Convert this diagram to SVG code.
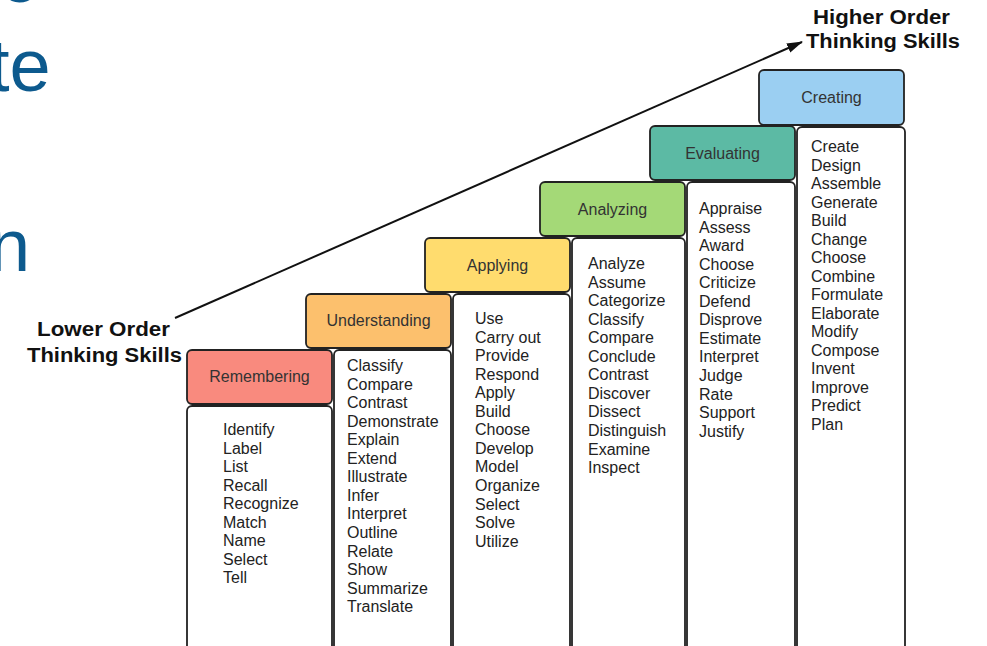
<svg xmlns="http://www.w3.org/2000/svg" width="987" height="646" viewBox="0 0 987 646">
<defs>
<style>
.hdr{stroke:#222;stroke-width:1.8}
.body{fill:#fff;stroke:#222;stroke-width:1.8}
.ht{font-family:"Liberation Sans",Arial,sans-serif;font-size:16px;fill:#333;text-anchor:middle}
.lt{font-family:"Liberation Sans",Arial,sans-serif;font-size:16px;fill:#222}
.bl{font-family:"Liberation Sans",Arial,sans-serif;font-size:20px;font-weight:bold;fill:#111}
.big{font-family:"Liberation Sans",Arial,sans-serif;font-size:74px;fill:#0d5a8e}
</style>
<marker id="ah" viewBox="0 0 16 10" refX="15" refY="5" markerWidth="16" markerHeight="10" markerUnits="userSpaceOnUse" orient="auto">
<path d="M0,0 L16,5 L0,10 z" fill="#111"/>
</marker>
</defs>
<rect width="987" height="646" fill="#fff"/>
<g id="title-fragments">
<text class="big" x="-1" y="2">o</text>
<text class="big" x="-11" y="91">te</text>
<text class="big" x="-11" y="271">n</text>
</g>
<g id="connectors">
<line x1="175" y1="318" x2="802" y2="42" stroke="#111" stroke-width="2" marker-end="url(#ah)"/>
</g>
<g id="label-lower">
<text class="bl" x="37" y="336" textLength="133" lengthAdjust="spacingAndGlyphs">Lower Order</text>
<text class="bl" x="27" y="362" textLength="155" lengthAdjust="spacingAndGlyphs">Thinking Skills</text>
</g>
<g id="label-higher">
<text class="bl" x="813" y="24" textLength="137" lengthAdjust="spacingAndGlyphs">Higher Order</text>
<text class="bl" x="806" y="48" textLength="154" lengthAdjust="spacingAndGlyphs">Thinking Skills</text>
</g>
<g id="remembering">
<rect class="body" x="187" y="406" width="145" height="252" rx="5"/>
<rect class="hdr" x="187" y="350" width="145" height="54" rx="5" fill="#f98a7e"/>
<text class="ht" x="259.5" y="382">Remembering</text>
<text class="lt"><tspan x="223" y="435">Identify</tspan><tspan x="223" y="453.6">Label</tspan><tspan x="223" y="472.1">List</tspan><tspan x="223" y="490.7">Recall</tspan><tspan x="223" y="509.2">Recognize</tspan><tspan x="223" y="527.8">Match</tspan><tspan x="223" y="546.3">Name</tspan><tspan x="223" y="564.9">Select</tspan><tspan x="223" y="583.4">Tell</tspan></text>
</g>
<g id="understanding">
<rect class="body" x="334" y="350" width="117" height="308" rx="5"/>
<rect class="hdr" x="306" y="294" width="145" height="54" rx="5" fill="#fcc06d"/>
<text class="ht" x="378.5" y="326">Understanding</text>
<text class="lt"><tspan x="347" y="371">Classify</tspan><tspan x="347" y="389.6">Compare</tspan><tspan x="347" y="408.1">Contrast</tspan><tspan x="347" y="426.7">Demonstrate</tspan><tspan x="347" y="445.2">Explain</tspan><tspan x="347" y="463.8">Extend</tspan><tspan x="347" y="482.3">Illustrate</tspan><tspan x="347" y="500.9">Infer</tspan><tspan x="347" y="519.4">Interpret</tspan><tspan x="347" y="538">Outline</tspan><tspan x="347" y="556.5">Relate</tspan><tspan x="347" y="575.1">Show</tspan><tspan x="347" y="593.6">Summarize</tspan><tspan x="347" y="612.2">Translate</tspan></text>
</g>
<g id="applying">
<rect class="body" x="453" y="294" width="117" height="364" rx="5"/>
<rect class="hdr" x="425" y="238" width="145" height="54" rx="5" fill="#ffdc6e"/>
<text class="ht" x="497.5" y="271">Applying</text>
<text class="lt"><tspan x="475" y="324">Use</tspan><tspan x="475" y="342.6">Carry out</tspan><tspan x="475" y="361.1">Provide</tspan><tspan x="475" y="379.7">Respond</tspan><tspan x="475" y="398.2">Apply</tspan><tspan x="475" y="416.8">Build</tspan><tspan x="475" y="435.3">Choose</tspan><tspan x="475" y="453.9">Develop</tspan><tspan x="475" y="472.4">Model</tspan><tspan x="475" y="491">Organize</tspan><tspan x="475" y="509.5">Select</tspan><tspan x="475" y="528.1">Solve</tspan><tspan x="475" y="546.6">Utilize</tspan></text>
</g>
<g id="analyzing">
<rect class="body" x="572" y="238" width="113" height="420" rx="5"/>
<rect class="hdr" x="540" y="182" width="145" height="54" rx="5" fill="#a4d977"/>
<text class="ht" x="612.5" y="214.5">Analyzing</text>
<text class="lt"><tspan x="588" y="269">Analyze</tspan><tspan x="588" y="287.6">Assume</tspan><tspan x="588" y="306.1">Categorize</tspan><tspan x="588" y="324.7">Classify</tspan><tspan x="588" y="343.2">Compare</tspan><tspan x="588" y="361.8">Conclude</tspan><tspan x="588" y="380.3">Contrast</tspan><tspan x="588" y="398.9">Discover</tspan><tspan x="588" y="417.4">Dissect</tspan><tspan x="588" y="436">Distinguish</tspan><tspan x="588" y="454.5">Examine</tspan><tspan x="588" y="473.1">Inspect</tspan></text>
</g>
<g id="evaluating">
<rect class="body" x="687" y="182" width="108" height="476" rx="5"/>
<rect class="hdr" x="650" y="126" width="145" height="54" rx="5" fill="#5cbaa4"/>
<text class="ht" x="722.5" y="159">Evaluating</text>
<text class="lt"><tspan x="699" y="214">Appraise</tspan><tspan x="699" y="232.6">Assess</tspan><tspan x="699" y="251.1">Award</tspan><tspan x="699" y="269.7">Choose</tspan><tspan x="699" y="288.2">Criticize</tspan><tspan x="699" y="306.8">Defend</tspan><tspan x="699" y="325.3">Disprove</tspan><tspan x="699" y="343.9">Estimate</tspan><tspan x="699" y="362.4">Interpret</tspan><tspan x="699" y="381">Judge</tspan><tspan x="699" y="399.5">Rate</tspan><tspan x="699" y="418.1">Support</tspan><tspan x="699" y="436.6">Justify</tspan></text>
</g>
<g id="creating">
<rect class="body" x="797" y="127" width="108" height="531" rx="5"/>
<rect class="hdr" x="759" y="70" width="145" height="55" rx="5" fill="#9bcff2"/>
<text class="ht" x="831.5" y="103">Creating</text>
<text class="lt"><tspan x="811" y="152">Create</tspan><tspan x="811" y="170.5">Design</tspan><tspan x="811" y="189.1">Assemble</tspan><tspan x="811" y="207.6">Generate</tspan><tspan x="811" y="226.1">Build</tspan><tspan x="811" y="244.7">Change</tspan><tspan x="811" y="263.2">Choose</tspan><tspan x="811" y="281.7">Combine</tspan><tspan x="811" y="300.2">Formulate</tspan><tspan x="811" y="318.8">Elaborate</tspan><tspan x="811" y="337.3">Modify</tspan><tspan x="811" y="355.8">Compose</tspan><tspan x="811" y="374.4">Invent</tspan><tspan x="811" y="392.9">Improve</tspan><tspan x="811" y="411.4">Predict</tspan><tspan x="811" y="430">Plan</tspan></text>
</g>
</svg>
